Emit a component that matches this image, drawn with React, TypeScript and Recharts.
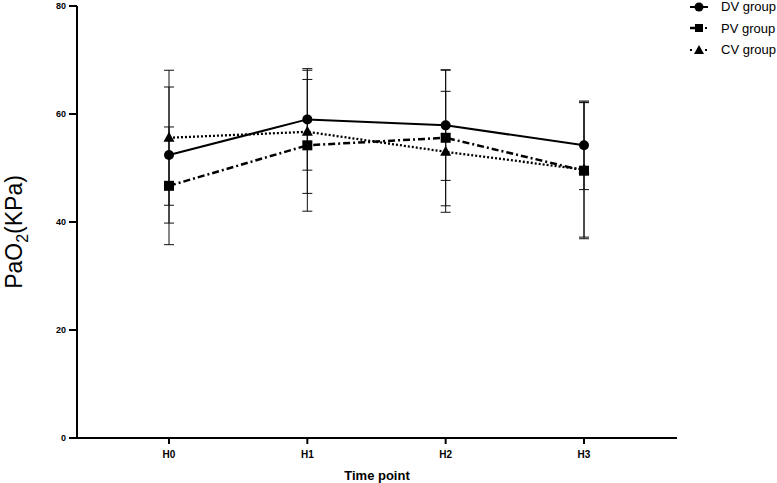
import React from 'react';
import { LineChart, Line, XAxis, YAxis, ErrorBar } from 'recharts';

// ---------------------------------------------------------------------------
// data (mean ± SD)
// ---------------------------------------------------------------------------

const timePoints = ['H0', 'H1', 'H2', 'H3'];

const dvMean = [52.4, 59.0, 57.9, 54.2];
const dvSd = [12.6, 9.4, 10.2, 8.2];

const pvMean = [46.7, 54.2, 55.6, 49.5];
const pvSd = [10.9, 12.2, 12.6, 12.6];

const cvMean = [55.6, 56.7, 53.0, 49.7];
const cvSd = [12.5, 11.4, 11.2, 12.5];

const yTicks = [0, 20, 40, 60, 80];

const seriesNames = ['DV group', 'PV group', 'CV group'];

const data = timePoints.map((t, i) => ({
  time: t,
  dv: dvMean[i],
  dvErr: dvSd[i],
  pv: pvMean[i],
  pvErr: pvSd[i],
  cv: cvMean[i],
  cvErr: cvSd[i],
}));

const FONT = '"Liberation Sans", Arial, Helvetica, sans-serif';
const INK = '#000';

// ---------------------------------------------------------------------------
// markers
// ---------------------------------------------------------------------------

function CircleDot(props: any) {
  const { cx, cy } = props;
  if (cx == null || cy == null) return null;
  return <circle cx={cx} cy={cy} r={5} fill={INK} stroke="none" />;
}

function SquareDot(props: any) {
  const { cx, cy } = props;
  if (cx == null || cy == null) return null;
  return <rect x={cx - 5} y={cy - 5} width={10} height={10} fill={INK} stroke="none" />;
}

function TriangleDot(props: any) {
  const { cx, cy } = props;
  if (cx == null || cy == null) return null;
  return (
    <polygon
      points={`${cx},${cy - 6} ${cx + 5.5},${cy + 4} ${cx - 5.5},${cy + 4}`}
      fill={INK}
      stroke="none"
    />
  );
}

// ---------------------------------------------------------------------------
// labels / legend
// ---------------------------------------------------------------------------

function YLabel(props: any) {
  const vb = props.viewBox || { y: 6, height: 432 };
  const cx = 22;
  const cy = vb.y + vb.height / 2 + 10;
  return (
    <text
      x={cx}
      y={cy}
      transform={`rotate(-90 ${cx} ${cy})`}
      textAnchor="middle"
      fontFamily={FONT}
      fontSize={23}
      fill={INK}
    >
      PaO
      <tspan fontSize={16} dy={6}>2</tspan>
      <tspan dy={-6}>(KPa)</tspan>
    </text>
  );
}

function XLabel(props: any) {
  const vb = props.viewBox || { x: 77, width: 600, y: 438 };
  return (
    <text
      x={vb.x + vb.width / 2}
      y={480}
      textAnchor="middle"
      fontFamily={FONT}
      fontSize={13}
      fontWeight="bold"
      fill={INK}
    >
      Time point
    </text>
  );
}

function LegendSymbol({ index }: { index: number }) {
  return (
    <svg width={20} height={12} style={{ display: 'block' }}>
      {index === 0 && (
        <>
          <line x1={1} y1={6} x2={19} y2={6} stroke={INK} strokeWidth={2} />
          <circle cx={10} cy={6} r={4.5} fill={INK} />
        </>
      )}
      {index === 1 && (
        <>
          <line x1={1} y1={6} x2={6} y2={6} stroke={INK} strokeWidth={2.5} />
          <rect x={6} y={2} width={8} height={8} fill={INK} />
          <rect x={16} y={5} width={2} height={2} fill={INK} />
        </>
      )}
      {index === 2 && (
        <>
          <rect x={1} y={5} width={2} height={2} fill={INK} />
          <rect x={16} y={5} width={2} height={2} fill={INK} />
          <polygon points="10,1 15,10 5,10" fill={INK} />
        </>
      )}
    </svg>
  );
}

function LegendBox() {
  return (
    <div
      style={{
        position: 'absolute',
        top: -4,
        left: 689,
        width: 90,
        fontFamily: FONT,
        fontSize: 13,
        color: INK,
      }}
    >
      {seriesNames.map((name, i) => (
        <div
          key={name}
          style={{ display: 'flex', alignItems: 'center', height: 21.5, whiteSpace: 'nowrap' }}
        >
          <LegendSymbol index={i} />
          <span style={{ marginLeft: 12 }}>{name}</span>
        </div>
      ))}
    </div>
  );
}

// ---------------------------------------------------------------------------
// chart
// ---------------------------------------------------------------------------

export default function App() {
  const tickStyle = { fontFamily: FONT, fontWeight: 'bold', fill: INK } as const;

  return (
    <div style={{ position: 'absolute', left: 0, top: 0, width: 777, height: 483, background: '#fff' }}>
      <LineChart
        width={777}
        height={483}
        data={data}
        margin={{ top: 6, right: 100, bottom: 0, left: 0 }}
      >
        <XAxis
          dataKey="time"
          height={45}
          padding={{ left: 92, right: 93 }}
          axisLine={{ stroke: INK, strokeWidth: 2 }}
          tickLine={{ stroke: INK, strokeWidth: 2 }}
          tickSize={6}
          tickMargin={7}
          tick={{ ...tickStyle, fontSize: 10 }}
          label={{ content: <XLabel /> }}
        />
        <YAxis
          width={77}
          domain={[0, 80]}
          ticks={yTicks}
          interval={0}
          allowDataOverflow
          axisLine={{ stroke: INK, strokeWidth: 2 }}
          tickLine={{ stroke: INK, strokeWidth: 2 }}
          tickSize={8}
          tickMargin={3}
          tick={{ ...tickStyle, fontSize: 9 }}
          label={{ content: <YLabel /> }}
        />

        <Line
          dataKey="pv"
          name="PV group"
          stroke={INK}
          strokeWidth={2.5}
          strokeDasharray="7 3 2 3"
          dot={<SquareDot />}
          activeDot={false}
          isAnimationActive={false}
        >
          <ErrorBar dataKey="pvErr" width={5} stroke="#111" strokeWidth={1} direction="y" isAnimationActive={false} />
        </Line>
        <Line
          dataKey="cv"
          name="CV group"
          stroke={INK}
          strokeWidth={2.3}
          strokeDasharray="2 2"
          dot={<TriangleDot />}
          activeDot={false}
          isAnimationActive={false}
        >
          <ErrorBar dataKey="cvErr" width={5} stroke="#111" strokeWidth={1} direction="y" isAnimationActive={false} />
        </Line>
        <Line
          dataKey="dv"
          name="DV group"
          stroke={INK}
          strokeWidth={2}
          dot={<CircleDot />}
          activeDot={false}
          isAnimationActive={false}
        >
          <ErrorBar dataKey="dvErr" width={5} stroke="#111" strokeWidth={1} direction="y" isAnimationActive={false} />
        </Line>
      </LineChart>
      <LegendBox />
    </div>
  );
}
